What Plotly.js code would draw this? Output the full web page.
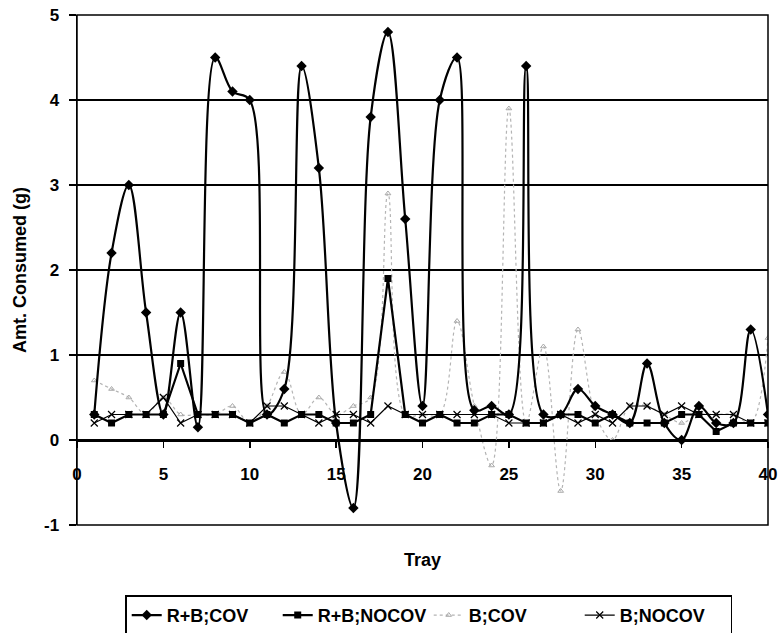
<!DOCTYPE html>
<html>
<head>
<meta charset="utf-8">
<script src="https://cdn.plot.ly/plotly-3.0.1.min.js"></script>
<style>html,body{margin:0;padding:0;background:#fff;}#chart{width:778px;height:633px;}</style>
</head>
<body>
<div id="chart"></div>
<script>
const trays = [1,2,3,4,5,6,7,8,9,10,11,12,13,14,15,16,17,18,19,20,21,22,23,24,25,26,27,28,29,30,31,32,33,34,35,36,37,38,39,40];
const rbCov = [0.3,2.2,3.0,1.5,0.3,1.5,0.15,4.5,4.1,4.0, 0.3,0.6,4.4,3.2,0.2,-0.8,3.8,4.8,2.6,0.4, 4.0,4.5,0.35,0.4,0.3,4.4,0.3,0.3,0.6,0.4, 0.3,0.2,0.9,0.2,0.0,0.4,0.2,0.2,1.3,0.3];
const rbNocov = [0.3,0.2,0.3,0.3,0.3,0.9,0.3,0.3,0.3,0.2, 0.3,0.2,0.3,0.3,0.2,0.2,0.3,1.9,0.3,0.2, 0.3,0.2,0.2,0.3,0.3,0.2,0.2,0.3,0.3,0.2, 0.3,0.2,0.2,0.2,0.3,0.3,0.1,0.2,0.2,0.2];
const bCov = [0.7,0.6,0.5,0.3,0.5,0.3,0.3,0.3,0.4,0.2, 0.4,0.8,0.3,0.5,0.3,0.4,0.5,2.9,0.3,0.3, 0.3,1.4,0.4,-0.3,3.9,0.2,1.1,-0.6,1.3,0.3, 0.0,0.4,0.4,0.3,0.2,0.3,0.3,0.3,0.2,1.2];
const bNocov = [0.2,0.3,0.3,0.3,0.5,0.2,0.3,0.3,0.3,0.2, 0.4,0.4,0.3,0.2,0.3,0.3,0.2,0.4,0.3,0.3, 0.3,0.3,0.3,0.3,0.2,0.2,0.2,0.3,0.2,0.3, 0.2,0.4,0.4,0.3,0.4,0.3,0.3,0.3,0.2,0.2];
const seriesNames = ["R+B;COV","R+B;NOCOV","B;COV","B;NOCOV"];
const yTicks = [-1,0,1,2,3,4,5];
const xTicks = [0,5,10,15,20,25,30,35,40];

const FONT = "Liberation Sans, Arial, sans-serif";
const traces = [
  {x: trays, y: bCov, name: seriesNames[2], legendrank: 3, mode: "lines+markers",
   line: {color: "#b4b4b4", width: 1.2, dash: "dot", shape: "spline"},
   marker: {symbol: "triangle-up-open", size: 5, color: "#a8a8a8", line: {width: 1}}},
  {x: trays, y: bNocov, name: seriesNames[3], legendrank: 4, mode: "lines+markers",
   line: {color: "#000", width: 1.2},
   marker: {symbol: "x-thin-open", size: 7, color: "#000", line: {width: 1.2, color: "#000"}}},
  {x: trays, y: rbNocov, name: seriesNames[1], legendrank: 2, mode: "lines+markers",
   line: {color: "#000", width: 2.2},
   marker: {symbol: "square", size: 7, color: "#000"}},
  {x: trays, y: rbCov, name: seriesNames[0], legendrank: 1, mode: "lines+markers",
   line: {color: "#000", width: 2.2, shape: "spline"},
   marker: {symbol: "diamond", size: 8, color: "#000"}}
];

const layout = {
  width: 778, height: 633,
  margin: {l: 77, r: 10, t: 15, b: 108, autoexpand: false},
  paper_bgcolor: "#fff", plot_bgcolor: "#fff",
  font: {family: FONT, size: 16, color: "#000", weight: "bold"},
  showlegend: true,
  legend: {orientation: "h", x: 0.509, xanchor: "center",
           yref: "container", y: 0.0595, yanchor: "top",
           bordercolor: "#000", borderwidth: 1.5, entrywidth: 106, entrywidthmode: "pixels",
           font: {family: FONT, size: 18, color: "#000", weight: "bold"}},
  shapes: [{type: "rect", xref: "paper", yref: "paper", x0: 0, x1: 1, y0: 0, y1: 1,
            line: {color: "#000", width: 1.5}, layer: "above"}],
  xaxis: {range: [0, 40], tickvals: xTicks, ticktext: xTicks.map(String),
          anchor: "free", position: 1/6, showgrid: false, zeroline: false,
          showline: true, linecolor: "#000", linewidth: 1.5,
          ticks: "outside", ticklen: 6, tickwidth: 1.5, tickcolor: "#000",
          ticklabelstandoff: 12,
          tickfont: {family: FONT, size: 17, weight: "bold"},
          title: {text: "Tray", standoff: 70, font: {family: FONT, size: 18, weight: "bold"}}},
  yaxis: {range: [-1, 5], tickvals: yTicks, ticktext: yTicks.map(String),
          showgrid: true, gridcolor: "#000", gridwidth: 1.6, zeroline: false,
          showline: true, linecolor: "#000", linewidth: 1.5,
          ticks: "outside", ticklen: 7, tickwidth: 1.5, tickcolor: "#000",
          ticklabelstandoff: 6,
          tickfont: {family: FONT, size: 17, weight: "bold"},
          title: {text: "Amt. Consumed (g)", standoff: 12, font: {family: FONT, size: 18, weight: "bold"}}}
};
Plotly.newPlot("chart", traces, layout, {displayModeBar: false, staticPlot: true});
</script>
</body>
</html>
